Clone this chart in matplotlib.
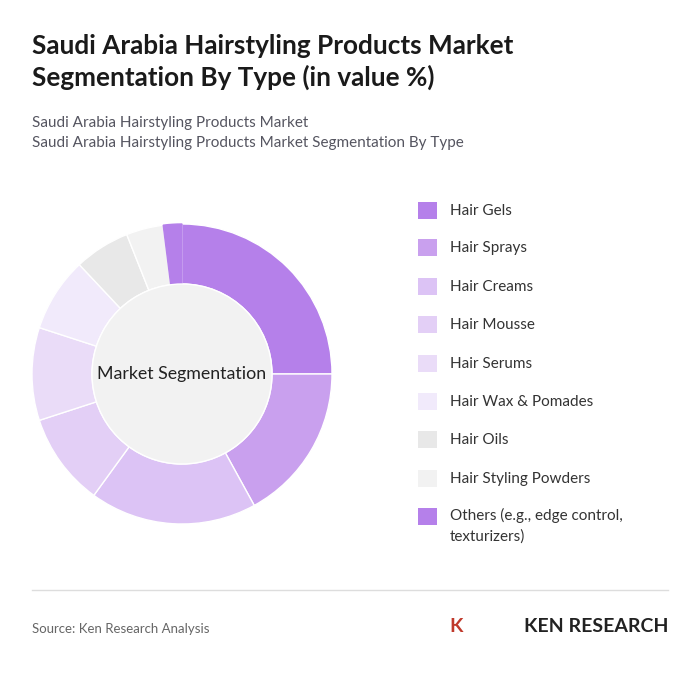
import matplotlib
matplotlib.use("Agg")
import matplotlib.pyplot as plt
from matplotlib.patches import Circle

plt.rcParams['font.family'] = ['Lato', 'DejaVu Sans']

categories = ["Hair Gels", "Hair Sprays", "Hair Creams", "Hair Mousse", "Hair Serums",
              "Hair Wax & Pomades", "Hair Oils", "Hair Styling Powders",
              "Others (e.g., edge control,\ntexturizers)"]
values = [25, 17, 18, 10, 10, 8, 6, 4, 2]
colors = ["#b580ea", "#c9a0ee", "#dcc3f5", "#e3cff6", "#eadcf8", "#f1eafb",
          "#e8e8e8", "#f2f2f2", "#b580ea"]

fig = plt.figure(figsize=(7, 6.75), dpi=100)
fig.patch.set_facecolor("white")

fig.text(32/700, 1-62/675, "Saudi Arabia Hairstyling Products Market\nSegmentation By Type (in value %)",
         fontsize=18.8, fontweight="bold", color="#1a1a1a", va="center", linespacing=1.3)
fig.text(32/700, 1-133/675, "Saudi Arabia Hairstyling Products Market\nSaudi Arabia Hairstyling Products Market Segmentation By Type",
         fontsize=11, color="#555560", va="center", linespacing=1.5)

ax = fig.add_axes([(182-150)/700, 1-(374+150)/675, 300/700, 300/675])
wedges, _ = ax.pie(values, colors=colors, startangle=90, counterclock=False,
                   wedgeprops=dict(width=0.4, edgecolor="white", linewidth=1))
wedges[-1].set_edgecolor(colors[-1])
ax.add_patch(Circle((0, 0), 0.6, facecolor="#f2f2f2", edgecolor="white", lw=1))
ax.text(0, 0, "Market Segmentation", ha="center", va="center", fontsize=12.8, color="#222")
ax.set_xlim(-1, 1); ax.set_ylim(-1, 1)
ax.set_aspect("equal")

ys = [211, 248, 287, 325, 364, 402, 440, 479, 517]
for c, col, y in zip(categories, colors, ys):
    fig.patches.append(plt.Rectangle((418/700, 1-(y+8)/675), 19/700, 17/675,
                                     transform=fig.transFigure, facecolor=col, edgecolor="none"))
    if "\n" in c:
        fig.text(450/700, 1-(y-9)/675, c, fontsize=11, color="#333", va="top", linespacing=1.6)
    else:
        fig.text(450/700, 1-y/675, c, fontsize=11, color="#333", va="center")

fig.add_artist(plt.Line2D([32/700, 668/700], [1-590/675]*2, color="#dddddd", lw=1))
fig.text(32/700, 1-629/675, "Source: Ken Research Analysis", fontsize=9.5, color="#666", va="center")
fig.text(668/700, 1-627/675, "KEN RESEARCH", fontsize=14, fontweight="bold", color="#222",
         ha="right", va="center")
fig.text(449/700, 1-627/675, "K", fontsize=14, fontweight="bold", color="#c0392b", va="center")

fig.savefig("out.png", dpi=100)
